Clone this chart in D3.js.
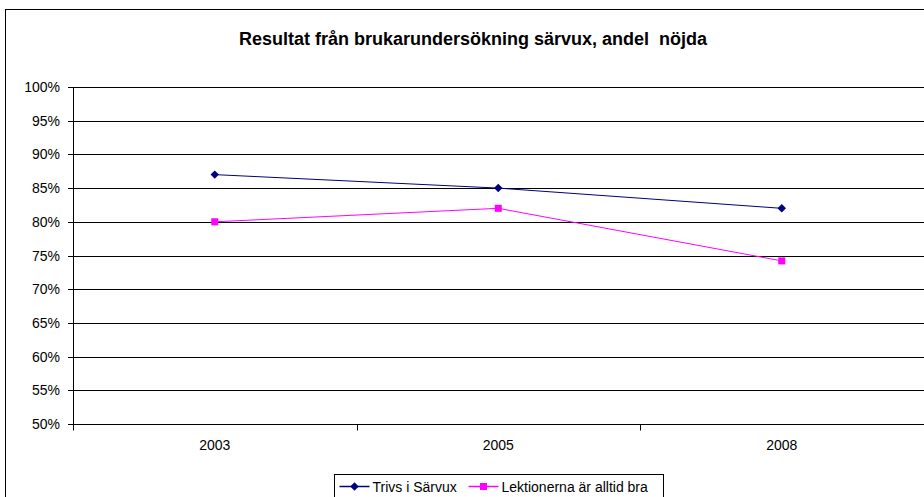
<!DOCTYPE html>
<html>
<head>
<meta charset="utf-8">
<script src="https://cdn.jsdelivr.net/npm/d3@7"></script>
<style>
  body { margin: 0; background: #fff; }
  svg { display: block; font-family: "Liberation Sans", Arial, sans-serif; }
</style>
</head>
<body>
<svg id="chart" width="924" height="497"></svg>
<script>
// Resultat från brukarundersökning särvux
const years = ["2003", "2005", "2008"];
const trivs = [87, 85, 82];
const lektioner = [80, 82, 74.2];
const yTicks = [50, 55, 60, 65, 70, 75, 80, 85, 90, 95, 100];
const seriesNames = ["Trivs i Särvux", "Lektionerna är alltid bra"];

const width = 924, height = 497;
const margin = { top: 87, right: 0.5, bottom: 73, left: 73 };
const innerWidth  = width  - margin.left - margin.right;
const innerHeight = height - margin.top  - margin.bottom;

const svg = d3.select("#chart");

// outer chart frame
svg.append("rect")
  .attr("x", 5.5).attr("y", 9.5)
  .attr("width", 960).attr("height", 520)
  .attr("fill", "#fff")
  .attr("stroke", "#000")
  .attr("stroke-width", 1);

svg.append("text")
  .attr("x", 473).attr("y", 45)
  .attr("text-anchor", "middle")
  .attr("font-size", "18px")
  .attr("font-weight", "bold")
  .style("white-space", "pre")
  .text("Resultat från brukarundersökning särvux, andel  nöjda");

const g = svg.append("g")
  .attr("transform", `translate(${margin.left},${margin.top})`);

const x = d3.scaleBand()
  .domain(years)
  .range([0, innerWidth]);

const y = d3.scaleLinear()
  .domain([50, 100])
  .range([innerHeight, 0]);

// gridlines
g.selectAll("line.grid")
  .data(yTicks.filter(d => d > 50))
  .join("line")
  .attr("class", "grid")
  .attr("x1", 0).attr("x2", innerWidth + 2)
  .attr("y1", d => Math.round(y(d)) + 0.5)
  .attr("y2", d => Math.round(y(d)) + 0.5)
  .attr("stroke", "#000")
  .attr("stroke-width", 1);

// y axis
const yAxis = g.append("g")
  .call(d3.axisLeft(y).tickValues(yTicks).tickFormat(d => d + "%").tickSize(5).tickPadding(8));
yAxis.select(".domain").attr("stroke", "#000");
yAxis.selectAll(".tick line").attr("stroke", "#000");
yAxis.selectAll("text").attr("font-size", "14px").attr("fill", "#000")
  .attr("font-family", "Liberation Sans, Arial, sans-serif");
yAxis.selectAll(".tick").attr("transform", d => `translate(0,${Math.round(y(d)) + 0.5})`);

// x axis
const xAxis = g.append("g")
  .attr("transform", `translate(0,${Math.round(innerHeight) + 0.5})`);
xAxis.append("line")
  .attr("x1", 0).attr("x2", innerWidth + 2)
  .attr("stroke", "#000");
const bounds = d3.range(years.length + 1).map(i => i * x.step());
xAxis.selectAll("line.tk")
  .data(bounds)
  .join("line")
  .attr("class", "tk")
  .attr("x1", d => Math.round(d) + 0.5).attr("x2", d => Math.round(d) + 0.5)
  .attr("y1", 0).attr("y2", 6)
  .attr("stroke", "#000");
xAxis.selectAll("text")
  .data(years)
  .join("text")
  .attr("x", d => x(d) + x.bandwidth() / 2)
  .attr("y", 25)
  .attr("text-anchor", "middle")
  .attr("font-size", "14px")
  .text(d => d);

const cx = d => x(d) + x.bandwidth() / 2;
const line = d3.line()
  .x((d, i) => cx(years[i]))
  .y(d => y(d));

// Trivs i Särvux
g.append("path")
  .datum(trivs)
  .attr("d", line)
  .attr("fill", "none")
  .attr("stroke", "#000080")
  .attr("stroke-width", 1);
g.selectAll("path.diamond")
  .data(trivs)
  .join("path")
  .attr("class", "diamond")
  .attr("transform", (d, i) => `translate(${cx(years[i])},${y(d)}) rotate(45)`)
  .attr("d", "M-3,-3H3V3H-3Z")
  .attr("fill", "#000080");

// Lektionerna är alltid bra
g.append("path")
  .datum(lektioner)
  .attr("d", line)
  .attr("fill", "none")
  .attr("stroke", "#FF00FF")
  .attr("stroke-width", 1);
g.selectAll("rect.sq")
  .data(lektioner)
  .join("rect")
  .attr("class", "sq")
  .attr("x", (d, i) => cx(years[i]) - 3.5)
  .attr("y", d => y(d) - 3.5)
  .attr("width", 7).attr("height", 7)
  .attr("fill", "#FF00FF");

// legend
const lg = svg.append("g").attr("transform", "translate(334.5,474.5)");
lg.append("rect")
  .attr("width", 329).attr("height", 30)
  .attr("fill", "#fff").attr("stroke", "#000");
const items = [
  { name: seriesNames[0], color: "#000080", shape: "diamond", x: 5 },
  { name: seriesNames[1], color: "#FF00FF", shape: "square", x: 134 }
];
items.forEach(it => {
  const ig = lg.append("g").attr("transform", `translate(${it.x},12)`);
  ig.append("line").attr("x1", 0).attr("x2", 30).attr("stroke", it.color).attr("stroke-width", 1.5);
  if (it.shape === "diamond") {
    ig.append("path").attr("d", "M-3,-3H3V3H-3Z")
      .attr("transform", "translate(15,0) rotate(45)").attr("fill", it.color);
  } else {
    ig.append("rect").attr("x", 11.5).attr("y", -3.5).attr("width", 7).attr("height", 7).attr("fill", it.color);
  }
  ig.append("text").attr("x", 33).attr("y", 5).attr("font-size", "14px").text(it.name);
});
</script>
</body>
</html>
